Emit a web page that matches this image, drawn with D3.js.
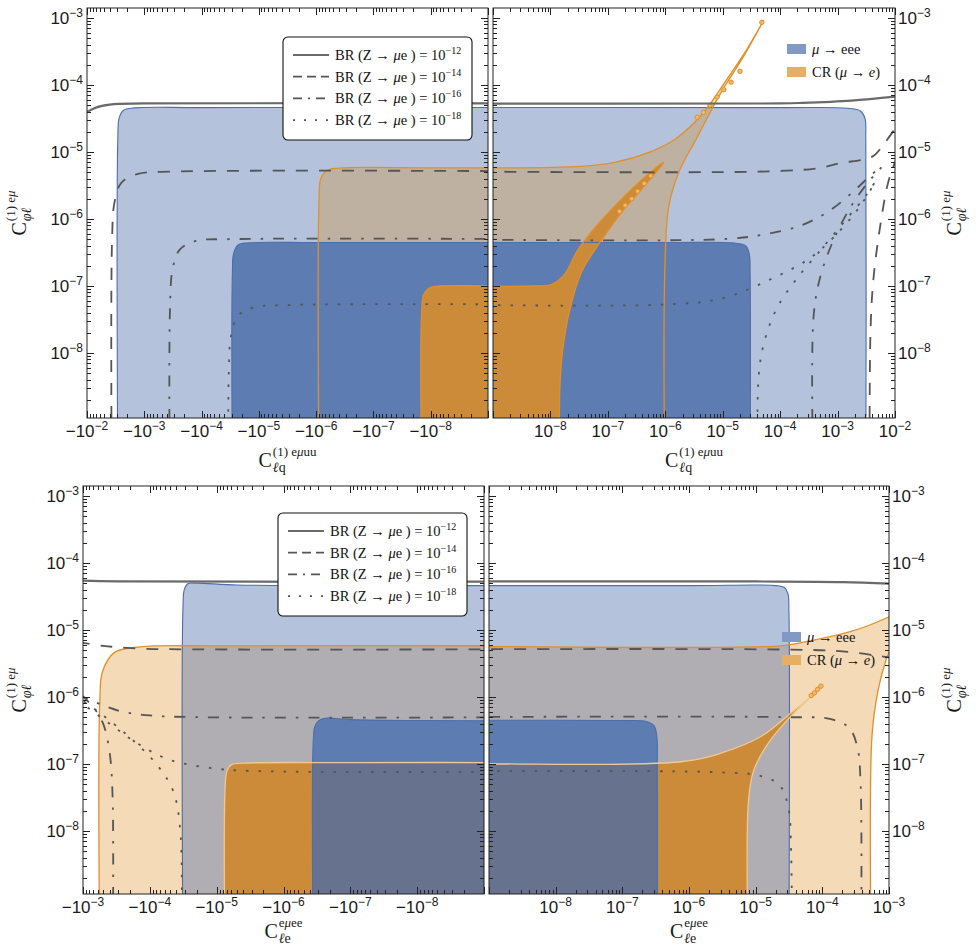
<!DOCTYPE html>
<html><head><meta charset="utf-8">
<script src="https://cdn.jsdelivr.net/npm/d3@7"></script>
<style>body{margin:0;background:#fff}svg{display:block}</style>
</head><body>
<svg id="fig" width="978" height="948"></svg>
<script>
// ---------- data: boundary points (x, y) ----------
// top-left: C_lq < 0
const tlBlueWeak   = [[-2.9e-3,1e-10],[-2.9e-3,1.5e-5],[-2.75e-3,3.2e-5],[-2.3e-3,4.2e-5],[-1.5e-3,4.55e-5],[-1e-4,4.6e-5],[-1e-10,4.6e-5]];
const tlBlueStrong = [[-2.9e-5,1e-10],[-2.9e-5,1.5e-7],[-2.75e-5,3.1e-7],[-2.3e-5,4.1e-7],[-1.5e-5,4.4e-7],[-1e-6,4.45e-7],[-1e-10,4.45e-7]];
const tlCrWeak     = [[-8.9e-7,1e-10],[-8.9e-7,2e-6],[-8.3e-7,4e-6],[-6.5e-7,5.3e-6],[-4e-7,5.75e-6],[-1e-8,5.8e-6],[-1e-10,5.8e-6]];
const tlCrStrong   = [[-1.44e-8,1e-10],[-1.44e-8,4e-8],[-1.32e-8,7.5e-8],[-1.05e-8,9.3e-8],[-7e-9,1e-7],[-1e-9,1e-7],[-1e-10,1e-7]];
const tlZ12 = [[-1.2e-2,3.6e-5],[-7e-3,4.6e-5],[-4e-3,5.1e-5],[-1e-3,5.3e-5],[-1e-10,5.3e-5]];
const tlZ14 = [[-3.7e-3,1e-10],[-3.65e-3,5e-7],[-3.3e-3,1.8e-6],[-2.5e-3,3.5e-6],[-1.3e-3,4.7e-6],[-3e-4,5.1e-6],[-1e-10,5.15e-6]];
const tlZ16 = [[-3.6e-4,1e-10],[-3.55e-4,5e-8],[-3.2e-4,1.8e-7],[-2.4e-4,3.5e-7],[-1.25e-4,4.7e-7],[-3e-5,5e-7],[-1e-10,5e-7]];
const tlZ18 = [[-3.4e-5,1e-10],[-3.35e-5,5e-9],[-3.05e-5,1.8e-8],[-2.3e-5,3.6e-8],[-1.2e-5,4.8e-8],[-3e-6,5.2e-8],[-1e-10,5.3e-8]];

// top-right: C_lq > 0
const trBlueWeak   = [[1e-10,4.6e-5],[1e-4,4.6e-5],[1.5e-3,4.5e-5],[2.5e-3,4.1e-5],[3e-3,3.2e-5],[3.1e-3,1.5e-5],[3.1e-3,1e-10]];
const trBlueStrong = [[1e-10,4.45e-7],[1e-6,4.45e-7],[1.5e-5,4.4e-7],[2.5e-5,4e-7],[2.9e-5,3e-7],[3e-5,1.5e-7],[3e-5,1e-10]];
const trCrWeak     = [[1e-10,5.8e-6],[3.5e-8,6.1e-6],[1.32e-7,7e-6],[5.2e-7,9.9e-6],[1.46e-6,1.54e-5],[4.3e-6,3.6e-5],[1.17e-5,1.2e-4],[2.6e-5,3.35e-4],[5.2e-5,9.3e-4],[2.14e-5,2.4e-4],[8.9e-6,7.2e-5],[3.5e-6,1.6e-5],[1.72e-6,5e-6],[1.15e-6,1.56e-6],[9.8e-7,1.6e-7],[9.8e-7,1e-10]];
const trCrStrong   = [[1e-10,1e-7],[4.8e-9,1e-7],[1.06e-8,1.06e-7],[1.79e-8,1.52e-7],[2.9e-8,3.3e-7],[5.3e-8,6.6e-7],[1.17e-7,1.4e-6],[3.2e-7,3.3e-6],[9.4e-7,7e-6],[3.9e-7,2.8e-6],[1.75e-7,1.27e-6],[7.3e-8,4.5e-7],[3.5e-8,1.63e-7],[2.2e-8,4.6e-8],[1.65e-8,1.17e-8],[1.46e-8,3e-9],[1.46e-8,1e-10]];
const trZ12  = [[1e-10,5.3e-5],[1e-4,5.3e-5],[2.4e-4,5.4e-5],[1.75e-3,5.85e-5],[1.2e-2,6.8e-5]];
const trZ14a = [[1e-10,5.15e-6],[7e-5,5.15e-6],[5e-4,5.8e-6],[1.17e-3,6.9e-6],[2.6e-3,7.6e-6],[4.2e-3,8.7e-6],[6.6e-3,1.36e-5],[1.2e-2,2.8e-5]];
const trZ14b = [[3.6e-3,1e-10],[3.75e-3,2.2e-8],[4.2e-3,1.24e-7],[5.4e-3,6.9e-7],[7.4e-3,3.2e-6],[9.3e-3,6e-6],[1.15e-2,9e-6]];
const trZ16a = [[1e-10,5e-7],[9.6e-6,5e-7],[4.8e-5,5.8e-7],[2.4e-4,8.1e-7],[7.9e-4,1.4e-6],[2.1e-3,2.8e-6],[3.9e-3,4.6e-6],[5.8e-3,5.9e-6]];
const trZ16b = [[3.8e-4,1e-10],[3.8e-4,3.3e-8],[4.9e-4,1.28e-7],[7.9e-4,4.2e-7],[1.6e-3,1.4e-6],[3.2e-3,3.3e-6],[5.8e-3,5.9e-6]];
const trZ18a = [[1e-10,5.3e-8],[1e-6,5.3e-8],[9.6e-6,6.5e-8],[7.1e-5,1.28e-7],[3.5e-4,2.7e-7],[1.17e-3,7.1e-7],[2.6e-3,1.66e-6],[4.8e-3,3.9e-6]];
const trZ18b = [[4.1e-5,1e-10],[4.2e-5,4.2e-9],[5.2e-5,1.38e-8],[8.7e-5,4.6e-8],[1.94e-4,1.28e-7],[5.3e-4,3.6e-7],[1.43e-3,1e-6],[3.2e-3,2.3e-6],[4.8e-3,3.9e-6]];

// bottom-left: C_le < 0
const blCrWeak     = [[-5.6e-4,1e-10],[-5.6e-4,8.7e-7],[-5.1e-4,2.4e-6],[-3.4e-4,4.6e-6],[-1.4e-4,5.6e-6],[-1e-5,5.8e-6],[-1e-10,5.8e-6]];
const blBlueWeak   = [[-3.2e-5,1e-10],[-3.2e-5,2e-5],[-3.05e-5,4e-5],[-2.7e-5,4.9e-5],[-2e-5,5e-5],[-5e-6,4.7e-5],[-1e-7,4.6e-5],[-1e-10,4.6e-5]];
const blBlueStrong = [[-3.6e-7,1e-10],[-3.6e-7,2e-7],[-3.4e-7,3.6e-7],[-3e-7,4.4e-7],[-2.4e-7,4.8e-7],[-1e-7,4.6e-7],[-1e-8,4.45e-7],[-1e-10,4.45e-7]];
const blCrStrong   = [[-7.5e-6,1e-10],[-7.5e-6,4e-8],[-7e-6,8e-8],[-6e-6,9.8e-8],[-4e-6,1.03e-7],[-1e-7,1.05e-7],[-1e-10,1.05e-7]];
const blZ12  = [[-1.2e-3,5.5e-5],[-3e-4,5.3e-5],[-1e-10,5.3e-5]];
const blZ14  = [[-1.2e-3,6.6e-6],[-5e-4,5.8e-6],[-1.5e-4,5.3e-6],[-3e-5,5.15e-6],[-1e-10,5.15e-6]];
const blZ16a = [[-1.2e-3,1.1e-6],[-5e-4,7.5e-7],[-2.5e-4,6e-7],[-1e-4,5.3e-7],[-2e-5,5e-7],[-1e-10,5e-7]];
const blZ16b = [[-3.6e-4,1e-10],[-3.6e-4,3e-8],[-4e-4,1.5e-7],[-5e-4,4e-7],[-7e-4,7e-7],[-1.2e-3,1.2e-6]];
const blZ18a = [[-1.2e-3,9e-7],[-4e-4,4e-7],[-1.5e-4,2e-7],[-5e-5,1.15e-7],[-1e-5,8.5e-8],[-2e-6,7.8e-8],[-1e-10,7.7e-8]];
const blZ18b = [[-3.4e-5,1e-10],[-3.5e-5,1e-8],[-4.5e-5,4e-8],[-8e-5,1e-7],[-2e-4,2.5e-7],[-5e-4,5.3e-7],[-1.2e-3,1e-6]];

// bottom-right: C_le > 0
const brCrWeak     = [[1e-10,5.8e-6],[2.4e-5,5.8e-6],[4.9e-5,6.5e-6],[2.7e-4,9.5e-6],[1.04e-3,1.6e-5],[3e-3,2.8e-5],[3e-3,8e-6],[1.04e-3,4.8e-6],[8.5e-4,2.9e-6],[6.4e-4,8.7e-7],[5.5e-4,2.2e-7],[5.4e-4,1e-10]];
const brBlueWeak   = [[1e-10,4.6e-5],[1e-6,4.6e-5],[2e-5,4.6e-5],[2.7e-5,4.3e-5],[3.05e-5,3.5e-5],[3.15e-5,2e-5],[3.15e-5,1e-10]];
const brBlueStrong = [[1e-10,4.45e-7],[1e-7,4.45e-7],[2.3e-7,4.3e-7],[3e-7,3.7e-7],[3.3e-7,2.5e-7],[3.35e-7,1e-7],[3.35e-7,1e-10]];
const brCrStrong   = [[1e-10,1.05e-7],[7.7e-7,1.08e-7],[3.1e-6,1.47e-7],[1.22e-5,2.6e-7],[3.4e-5,5.8e-7],[6.8e-5,1.03e-6],[1.04e-4,1.56e-6],[5.8e-5,8.7e-7],[2.9e-5,4.4e-7],[1.45e-5,1.86e-7],[9.3e-6,7.9e-8],[7.8e-6,2.8e-8],[7.8e-6,1e-10]];
const brZ12 = [[1e-10,5.3e-5],[1e-5,5.3e-5],[2e-4,5.2e-5],[1.2e-3,4.9e-5]];
const brZ14 = [[1e-10,5.15e-6],[3e-5,5.1e-6],[2e-4,4.8e-6],[1.2e-3,3.8e-6]];
const brZ16 = [[1e-10,5e-7],[3e-5,5e-7],[1.3e-4,4.7e-7],[2.5e-4,3.5e-7],[3.35e-4,1.8e-7],[3.75e-4,5e-8],[3.8e-4,1e-10]];
const brZ18 = [[1e-10,7.7e-8],[3e-6,7.5e-8],[1.2e-5,6.6e-8],[2.3e-5,4.8e-8],[3.1e-5,2.2e-8],[3.4e-5,5e-9],[3.5e-5,1e-10]];

// small numerical rings along the CR wedge tips
const trRings = [[3.6e-6,3.3e-5],[4.6e-6,3.9e-5],[6e-6,5e-5],[8e-6,6.6e-5],[1.05e-5,8.5e-5],[1.4e-5,1.1e-4],[2e-5,1.6e-4],[4.8e-5,8.6e-4],
                 [1.6e-7,1.3e-6],[2e-7,1.6e-6],[2.6e-7,2e-6],[3.3e-7,2.6e-6],[4.3e-7,3.4e-6],[5.6e-7,4.4e-6]];
const brRings = [[8.5e-5,1.3e-6],[9.5e-5,1.45e-6],[7.6e-5,1.15e-6],[6.8e-5,1.05e-6]];

// legend texts
const zLevels = ["12", "14", "16", "18"];
const regionNames = ["μ → eee", "CR (μ → e)"];
const yTickExp = [3, 4, 5, 6, 7, 8];

// ---------- styles ----------
const SANS = "'Liberation Sans', Arial, sans-serif";
const SERIF = "'Liberation Serif', 'Times New Roman', serif";
const col = {lb:"#b4c2dc", db:"#5d7cb2", lo:"#f4dab6", tan:"#bfb1a1", gray:"#b0aeb3",
             dko:"#cc8b38", slate:"#67728f", blueLine:"#4a6eae", orLine:"#e38f26", lightLine:"#efc990"};
const zStyle = [
  {dash:null, w:2.2, c:"#6a6a6a"},
  {dash:"12,11", w:1.8, c:"#555"},
  {dash:"11,10,2.5,10", w:1.8, c:"#555"},
  {dash:"2.5,10", w:1.8, c:"#555"}
];
const zLegDash = [null, "9,5", "9,6,2,6", "2,9"];

const panels = [
  {id:"tl", x0:87, x1:488, y0:8, y1:418, yRef:[353,18], xDom:[-1e-2,-1e-9], neg:true, corner:"br", side:"left",
   lb:tlBlueWeak, db:tlBlueStrong, lo:tlCrWeak, dko:tlCrStrong, top:true, rings:[],
   z:[[tlZ12,0],[tlZ14,1],[tlZ16,2],[tlZ18,3]], xLab:[2,3,4,5,6,7,8], xt:["ℓq","(1) eμuu"]},
  {id:"tr", x0:493, x1:895, y0:8, y1:418, yRef:[353,18], xDom:[1e-9,1e-2], neg:false, corner:"bl", side:"right",
   lb:trBlueWeak, db:trBlueStrong, lo:trCrWeak, dko:trCrStrong, top:true, rings:trRings,
   z:[[trZ12,0],[trZ14a,1],[trZ14b,1],[trZ16a,2],[trZ16b,2],[trZ18a,3],[trZ18b,3]], xLab:[8,7,6,5,4,3,2], xt:["ℓq","(1) eμuu"]},
  {id:"bl", x0:83, x1:484, y0:486, y1:894, yRef:[831,496], xDom:[-1e-3,-1e-9], neg:true, corner:"br", side:"left",
   lb:blBlueWeak, db:blBlueStrong, lo:blCrWeak, dko:blCrStrong, top:false, rings:[],
   z:[[blZ12,0],[blZ14,1],[blZ16a,2],[blZ16b,2],[blZ18a,3],[blZ18b,3]], xLab:[3,4,5,6,7,8], xt:["ℓe","eμee"]},
  {id:"br", x0:489, x1:889, y0:486, y1:894, yRef:[831,496], xDom:[1e-9,1e-3], neg:false, corner:"bl", side:"right",
   lb:brBlueWeak, db:brBlueStrong, lo:brCrWeak, dko:brCrStrong, top:false, rings:brRings,
   z:[[brZ12,0],[brZ14,1],[brZ16,2],[brZ18,3]], xLab:[8,7,6,5,4,3], xt:["ℓe","eμee"]}
];

const svg = d3.select("#fig");
const defs = svg.append("defs");

function logTicks(lo, hi) {
  const out = [];
  for (let n = Math.floor(Math.log10(lo)) - 1; n <= Math.ceil(Math.log10(hi)); n++) {
    for (let k = 1; k <= 9; k++) {
      const v = k * Math.pow(10, n);
      if (v >= lo * 0.999 && v <= hi * 1.001) out.push({v, major: k === 1});
    }
  }
  return out;
}

function powLabel(g, x, y, neg, exp, anchor) {
  const t = g.append("text").attr("x", x).attr("y", y).attr("text-anchor", anchor)
    .attr("font-family", SANS).attr("font-size", 17).attr("fill", "#1a1a1a");
  t.append("tspan").text((neg ? "−" : "") + "10");
  t.append("tspan").attr("dy", -7).attr("font-size", 12).text("−" + exp);
}

// C with stacked sub/superscript, centred on cx
function cTitle(g, cx, by, sub, sup) {
  const c = g.append("text").attr("font-family", SERIF).attr("font-size", 20).attr("fill", "#1a1a1a").text("C");
  const sp = g.append("text").attr("font-family", SERIF).attr("font-size", 13).attr("fill", "#1a1a1a");
  sup.split(/(μ)/).forEach(s => { if (s) sp.append("tspan").attr("font-style", s === "μ" ? "italic" : null).text(s); });
  const sb = g.append("text").attr("font-family", SERIF).attr("font-size", 14).attr("fill", "#1a1a1a");
  sub.split(/(ℓ|φ)/).forEach(s => { if (s) sb.append("tspan").attr("font-style", (s === "ℓ" || s === "φ") ? "italic" : null).text(s); });
  const wc = c.node().getComputedTextLength();
  const w = wc + 1 + Math.max(sp.node().getComputedTextLength(), sb.node().getComputedTextLength());
  const left = cx - w / 2;
  c.attr("x", left).attr("y", by);
  sp.attr("x", left + wc + 1).attr("y", by - 11);
  sb.attr("x", left + wc + 1).attr("y", by + 5);
}

panels.forEach(p => {
  const x = d3.scaleLog().domain(p.xDom).range([p.x0, p.x1]);
  const y = d3.scaleLog().domain([1e-8, 1e-3]).range(p.yRef);
  const line = d3.line().x(d => x(d[0])).y(d => y(d[1])).curve(d3.curveCatmullRom.alpha(0.5));
  const cx = p.corner === "br" ? p.x1 + 90 : p.x0 - 90, cy = p.y1 + 90;
  const shape = pts => line(pts) + `L${cx},${cy}Z`;

  defs.append("clipPath").attr("id", p.id + "-frame")
    .append("rect").attr("x", p.x0).attr("y", p.y0).attr("width", p.x1 - p.x0).attr("height", p.y1 - p.y0);
  ["lb", "lo", "db"].forEach(k => defs.append("clipPath").attr("id", p.id + "-" + k).append("path").attr("d", shape(p[k])));

  const g = svg.append("g").attr("clip-path", `url(#${p.id}-frame)`);
  const fill = (k, c, clip) => {
    const host = clip ? g.append("g").attr("clip-path", `url(#${p.id}-${clip})`) : g;
    host.append("path").attr("d", shape(p[k])).attr("fill", c).attr("stroke", "none");
  };
  if (p.top) {
    fill("lb", col.lb); fill("lo", col.lo); fill("lo", col.tan, "lb");
    fill("db", col.db); fill("dko", col.dko);
  } else {
    fill("lo", col.lo); fill("lb", col.lb); fill("lb", col.gray, "lo");
    fill("db", col.db); fill("dko", col.dko); fill("dko", col.slate, "db");
  }
  const edge = (k, c, w) => g.append("path").attr("d", line(p[k])).attr("fill", "none").attr("stroke", c).attr("stroke-width", w);
  edge("lb", col.blueLine, 1.1);
  edge("db", col.blueLine, 1.1);
  edge("lo", col.orLine, 1.3);
  edge("dko", p.top ? col.orLine : col.lightLine, 1.3);

  g.selectAll("circle.ring").data(p.rings).join("circle").attr("class", "ring")
    .attr("cx", d => x(d[0])).attr("cy", d => y(d[1])).attr("r", 2.2)
    .attr("fill", "#f0b870").attr("stroke", col.orLine).attr("stroke-width", 1);

  p.z.forEach(([pts, s]) => {
    const st = zStyle[s];
    g.append("path").attr("d", line(pts)).attr("fill", "none").attr("stroke", st.c)
      .attr("stroke-width", st.w).attr("stroke-dasharray", st.dash);
  });

  // frame & ticks
  const fr = svg.append("g").attr("stroke", "#222").attr("stroke-width", 1);
  fr.append("rect").attr("x", p.x0).attr("y", p.y0).attr("width", p.x1 - p.x0).attr("height", p.y1 - p.y0).attr("fill", "none");
  const ymin = y.invert(p.y1), ymax = y.invert(p.y0);
  logTicks(ymin, ymax).forEach(t => {
    const yy = Math.round(y(t.v)) + 0.5, L = t.major ? 7 : 4;
    fr.append("line").attr("x1", p.x0).attr("x2", p.x0 + L).attr("y1", yy).attr("y2", yy);
    fr.append("line").attr("x1", p.x1).attr("x2", p.x1 - L).attr("y1", yy).attr("y2", yy);
  });
  const ax = Math.abs(p.xDom[0]), bx = Math.abs(p.xDom[1]);
  logTicks(Math.min(ax, bx), Math.max(ax, bx)).forEach(t => {
    const xx = Math.round(x(p.neg ? -t.v : t.v)) + 0.5, L = t.major ? 7 : 4;
    fr.append("line").attr("x1", xx).attr("x2", xx).attr("y1", p.y1).attr("y2", p.y1 - L);
    fr.append("line").attr("x1", xx).attr("x2", xx).attr("y1", p.y0).attr("y2", p.y0 + L);
  });

  const lab = svg.append("g");
  p.xLab.forEach(e => powLabel(lab, x((p.neg ? -1 : 1) * Math.pow(10, -e)), p.y1 + 18.5, p.neg, e, "middle"));
  yTickExp.forEach(e => {
    const yy = y(Math.pow(10, -e)) + 6;
    if (p.side === "left") powLabel(lab, p.x0 - 4, yy, false, e, "end");
    else powLabel(lab, p.x1 + 3, yy, false, e, "start");
  });

  cTitle(lab, (p.x0 + p.x1) / 2, p.y1 + (p.top ? 49 : 44), p.xt[0], p.xt[1]);
  const tx = p.side === "left" ? 26 : 961;
  const rg = lab.append("g").attr("transform", `translate(${tx},${(p.y0 + p.y1) / 2}) rotate(-90)`);
  cTitle(rg, 0, 0, "φℓ", "(1) eμ");
});

// ---------- legends ----------
function zLegend(x0, y0) {
  const g = svg.append("g");
  g.append("rect").attr("x", x0).attr("y", y0).attr("width", 189).attr("height", 103).attr("rx", 5)
    .attr("fill", "#fff").attr("stroke", "#111").attr("stroke-width", 1.1);
  zLevels.forEach((lv, i) => {
    const yy = y0 + 18 + i * 21.7;
    const st = zStyle[i];
    g.append("line").attr("x1", x0 + 10).attr("x2", x0 + 46).attr("y1", yy).attr("y2", yy)
      .attr("stroke", st.c).attr("stroke-width", st.w).attr("stroke-dasharray", zLegDash[i]);
    const t = g.append("text").attr("x", x0 + 52).attr("y", yy + 5).attr("font-family", SERIF)
      .attr("font-size", 14.5).attr("fill", "#111");
    t.append("tspan").text("BR (Z → ");
    t.append("tspan").attr("font-style", "italic").text("μ");
    t.append("tspan").text("e ) = 10");
    t.append("tspan").attr("dy", -6).attr("font-size", 10).text("−" + lv);
  });
}
zLegend(283, 37);
zLegend(278, 513);

function rLegend(x0, y0) {
  const g = svg.append("g");
  const sw = ["#8299c6", "#e5af66"];
  regionNames.forEach((nm, i) => {
    const yy = y0 + i * 23;
    g.append("rect").attr("x", x0).attr("y", yy).attr("width", 19).attr("height", 10).attr("fill", sw[i]);
    const t = g.append("text").attr("x", x0 + 25).attr("y", yy + 10).attr("font-family", SERIF)
      .attr("font-size", 14.5).attr("fill", "#111");
    nm.split(/(μ|e\))/).forEach(s => {
      if (!s) return;
      if (s === "μ") t.append("tspan").attr("font-style", "italic").text("μ");
      else if (s === "e)") { t.append("tspan").attr("font-style", "italic").text("e"); t.append("tspan").text(")"); }
      else t.append("tspan").text(s);
    });
  });
}
rLegend(787, 44);
rLegend(782, 632);
</script>
</body></html>
